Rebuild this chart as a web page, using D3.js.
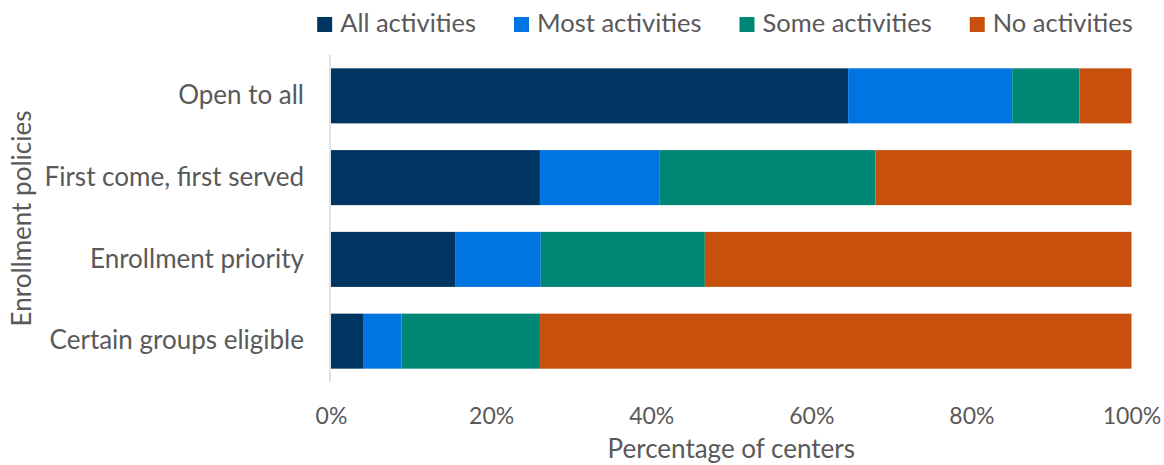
<!DOCTYPE html>
<html>
<head>
<meta charset="utf-8">
<script src="https://cdn.jsdelivr.net/npm/d3@7"></script>
<style>
  html, body { margin: 0; padding: 0; background: #fff; }
  svg text { font-family: Lato, "Open Sans", sans-serif; fill: #595959; }
</style>
</head>
<body>
<svg id="chart" width="1164" height="465"></svg>
<script>
// Enrollment policy categories (top to bottom)
const categories = ["Open to all", "First come, first served", "Enrollment priority", "Certain groups eligible"];

// Series names and shares of centers (%) per category
const seriesNames = ["All activities", "Most activities", "Some activities", "No activities"];
const allActivities  = [64.6, 26.1, 15.5, 4.0];
const mostActivities = [20.5, 14.9, 10.7, 4.8];
const someActivities = [8.4, 27.0, 20.5, 17.3];
const noActivities   = [6.5, 32.0, 53.3, 73.9];

const tickValues = [0, 20, 40, 60, 80, 100];
const seriesColors = ["#003562", "#0074E0", "#008675", "#C7510C"];

const seriesValues = [allActivities, mostActivities, someActivities, noActivities];
const rows = categories.map((c, i) => {
  const r = { category: c };
  seriesNames.forEach((s, j) => { r[s] = seriesValues[j][i]; });
  return r;
});

const svg = d3.select("#chart");
const margin = { left: 331, right: 32.5, top: 55, bottom: 83 };
const W = 1164, H = 465;
const FONT = "Lato, 'Open Sans', sans-serif";

const x = d3.scaleLinear().domain([0, 100]).range([margin.left, W - margin.right]);
const y = d3.scaleBand().domain(categories)
  .range([margin.top, H - margin.bottom])
  .paddingInner(0.327).paddingOuter(0.163);

const color = d3.scaleOrdinal().domain(seriesNames).range(seriesColors);
const stacked = d3.stack().keys(seriesNames)(rows);

// Stacked bars
svg.append("g").selectAll("g").data(stacked).join("g")
  .attr("fill", d => color(d.key))
  .selectAll("rect").data(d => d).join("rect")
  .attr("x", d => x(d[0]))
  .attr("y", d => y(d.data.category))
  .attr("width", d => x(d[1]) - x(d[0]))
  .attr("height", y.bandwidth());

// Vertical category axis line
svg.append("line")
  .attr("x1", x(0) - 1).attr("x2", x(0) - 1)
  .attr("y1", margin.top).attr("y2", H - margin.bottom)
  .attr("stroke", "#d9d9d9").attr("stroke-width", 1.5);

// Category labels
const yAxis = d3.axisLeft(y).tickSize(0).tickPadding(27);
const gy = svg.append("g").attr("transform", `translate(${x(0)},0)`).call(yAxis);
gy.select(".domain").remove();
gy.selectAll("text").style("font-size", "26px").attr("fill", "#595959")
  .style("font-family", FONT);

// Percentage axis labels
const xAxis = d3.axisBottom(x).tickValues(tickValues).tickFormat(d => d + "%").tickSize(0).tickPadding(26);
const gx = svg.append("g").attr("transform", `translate(0,${H - margin.bottom})`).call(xAxis);
gx.select(".domain").remove();
gx.selectAll("text").style("font-size", "23px").attr("fill", "#595959")
  .style("font-family", FONT);

// Axis titles
svg.append("text")
  .attr("x", (x(0) + x(100)) / 2).attr("y", 458)
  .attr("text-anchor", "middle").style("font-size", "26px")
  .text("Percentage of centers");

svg.append("text")
  .attr("transform", `translate(31,${(y.range()[0] + y.range()[1]) / 2}) rotate(-90)`)
  .attr("text-anchor", "middle").style("font-size", "26px")
  .text("Enrollment policies");

// Legend
const legend = svg.append("g");
const items = legend.selectAll("g").data(seriesNames).join("g");
items.append("rect").attr("width", 15).attr("height", 15).attr("y", 17)
  .attr("fill", d => color(d));
items.append("text").attr("x", 23).attr("y", 32).style("font-size", "25.5px").text(d => d);
let cursor = 0;
const gap = 38;
items.each(function () {
  const w = 23 + d3.select(this).select("text").node().getComputedTextLength();
  d3.select(this).attr("transform", `translate(${cursor},0)`);
  cursor += w + gap;
});
const total = cursor - gap;
legend.attr("transform", `translate(${725 - total / 2},0)`);
</script>
</body>
</html>
